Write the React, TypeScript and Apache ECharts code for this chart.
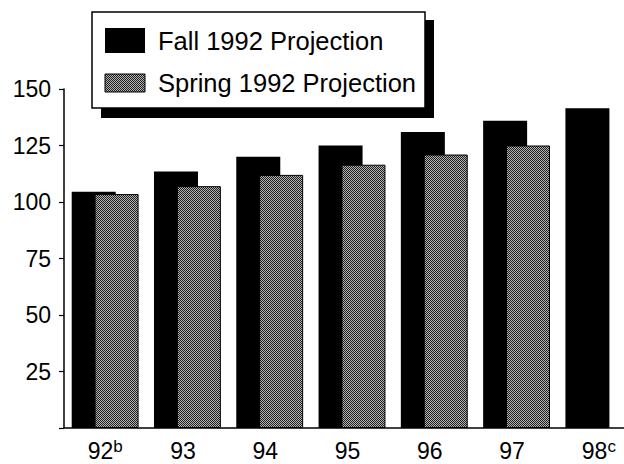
import React, { useEffect, useRef } from "react";
import * as echarts from "echarts";

const years = ["92", "93", "94", "95", "96", "97", "98"];
const notes = ["b", "", "", "", "", "", "c"];
const fall1992 = [104.5, 113.5, 120, 125, 131, 136, 141.5];
const spring1992 = [103.5, 107, 112, 116.5, 121, 125, null];
const yTicks = [0, 25, 50, 75, 100, 125, 150];

const FONT = "'Liberation Sans', Arial, Helvetica, sans-serif";

function makeStipple(): any {
  const c = document.createElement("canvas");
  c.width = 2;
  c.height = 2;
  const ctx = c.getContext("2d");
  if (!ctx) return "#7f7f7f";
  ctx.fillStyle = "#b4b4b4";
  ctx.fillRect(0, 0, 2, 2);
  ctx.fillStyle = "#1e1e1e";
  ctx.fillRect(0, 0, 1, 1);
  ctx.fillRect(1, 1, 1, 1);
  return { image: c, repeat: "repeat" };
}

export default function App() {
  const ref = useRef<HTMLDivElement>(null);

  useEffect(() => {
    document.body.style.margin = "0";
    if (!ref.current) return;
    const chart = echarts.init(ref.current, undefined, { renderer: "svg" });
    const stipple = makeStipple();

    const option: any = {
      animation: false,
      backgroundColor: "#ffffff",
      grid: { left: 64, right: 0, top: 89, bottom: 36, containLabel: false },
      xAxis: {
        type: "category",
        data: years,
        boundaryGap: true,
        axisLine: { show: true, lineStyle: { color: "#000", width: 1.5 } },
        axisTick: { show: false },
        axisLabel: {
          margin: 10,
          interval: 0,
          formatter: (v: string, i: number) =>
            notes[i] ? `{n|${v}}{s|${notes[i]}}` : `{n|${v}}{sp|}`,
          rich: {
            n: { fontFamily: FONT, fontSize: 23, color: "#000", lineHeight: 26 },
            s: { fontFamily: FONT, fontSize: 17, color: "#000", verticalAlign: "top", lineHeight: 14 },
            sp: { width: 9 },
          },
        },
        splitLine: { show: false },
      },
      yAxis: {
        type: "value",
        min: 0,
        max: 150,
        interval: 25,
        axisLine: { show: true, lineStyle: { color: "#000", width: 1.5 } },
        axisTick: { show: true, inside: false, length: 5, lineStyle: { color: "#000", width: 1.2 } },
        axisLabel: {
          margin: 13,
          fontFamily: FONT,
          fontSize: 23,
          color: "#000",
          formatter: (v: number) => (v === 0 || yTicks.indexOf(v) < 0 ? "" : String(v)),
        },
        splitLine: { show: false },
      },
      series: [
        {
          name: "Fall 1992 Projection",
          type: "bar",
          data: fall1992,
          barWidth: 44,
          barGap: "-48%",
          itemStyle: { color: "#000" },
        },
        {
          name: "Spring 1992 Projection",
          type: "bar",
          data: spring1992,
          barWidth: 44,
          barGap: "-48%",
          itemStyle: { color: stipple, borderColor: "#000", borderWidth: 1 },
        },
      ],
      graphic: [
        {
          type: "rect",
          z: 10,
          shape: { x: 101, y: 20, width: 333, height: 98 },
          style: { fill: "#000" },
        },
        {
          type: "rect",
          z: 11,
          shape: { x: 92, y: 12, width: 333, height: 96 },
          style: { fill: "#fff", stroke: "#000", lineWidth: 1.5 },
        },
        {
          type: "rect",
          z: 12,
          shape: { x: 105, y: 28, width: 40, height: 25 },
          style: { fill: "#000" },
        },
        {
          type: "text",
          z: 12,
          x: 158,
          y: 41,
          style: {
            text: "Fall 1992 Projection",
            font: `25.5px ${FONT}`,
            fill: "#000",
            verticalAlign: "middle",
          },
        },
        {
          type: "rect",
          z: 12,
          shape: { x: 105, y: 74, width: 40, height: 18 },
          style: { fill: stipple, stroke: "#000", lineWidth: 1 },
        },
        {
          type: "text",
          z: 12,
          x: 158,
          y: 83,
          style: {
            text: "Spring 1992 Projection",
            font: `25.5px ${FONT}`,
            fill: "#000",
            verticalAlign: "middle",
          },
        },
      ],
    };

    chart.setOption(option);
    return () => chart.dispose();
  }, []);

  return (
    <div style={{ width: 624, height: 464, overflow: "hidden", position: "relative" }}>
      <div ref={ref} style={{ width: 640, height: 464 }} />
    </div>
  );
}
